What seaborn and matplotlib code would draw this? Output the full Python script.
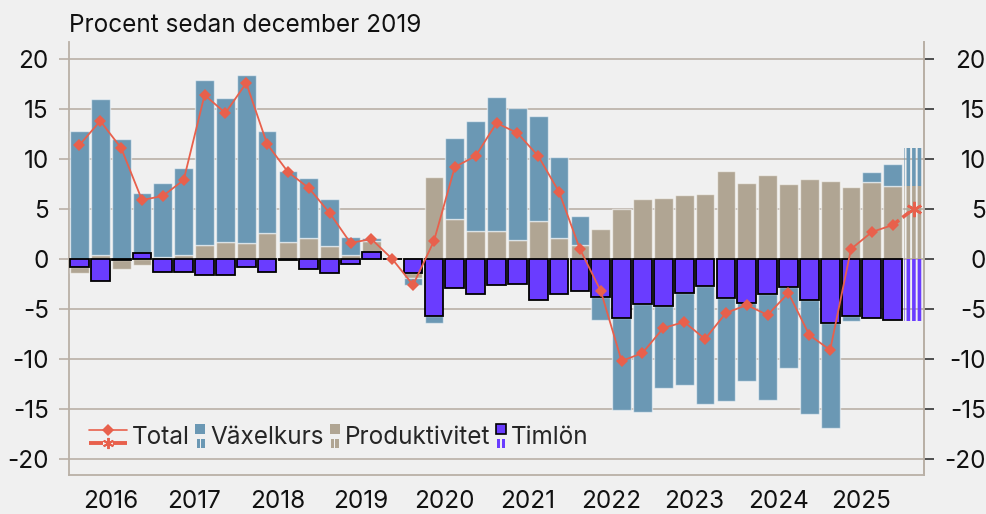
import numpy as np
import pandas as pd
import matplotlib
matplotlib.use("Agg")
import matplotlib.pyplot as plt
import seaborn as sns
from matplotlib.legend_handler import HandlerBase
from matplotlib.patches import Rectangle
from matplotlib.lines import Line2D

# ---------------- data (quarterly, 2016Q1 .. 2026Q1) ----------------
years = [2016, 2017, 2018, 2019, 2020, 2021, 2022, 2023, 2024, 2025]
quarters = [f"{y}K{q}" for y in range(2016, 2027) for q in (1, 2, 3, 4)][:41]

timlon = [-0.8, -2.2, -0.05, 0.6, -1.3, -1.3, -1.6, -1.6, -0.8, -1.3,
          -0.05, -1.0, -1.4, -0.5, 0.7, 0.0, -1.4, -5.7, -2.9, -3.5,
          -2.6, -2.5, -4.1, -3.5, -3.2, -3.8, -5.9, -4.5, -4.7, -3.4,
          -2.7, -3.9, -4.4, -3.5, -2.8, -4.1, -6.4, -5.7, -5.9, -6.1,
          -6.2]
produktivitet = [-0.6, 0.4, -0.9, -0.6, 0.2, 0.4, 1.4, 1.7, 1.6, 2.6,
                 1.7, 2.1, 1.3, 0.4, 1.1, 0.0, -0.5, 8.2, 4.0, 2.8,
                 2.8, 1.9, 3.8, 2.1, 1.4, 3.0, 5.0, 6.0, 6.1, 6.4,
                 6.5, 8.8, 7.6, 8.4, 7.5, 8.0, 7.8, 7.2, 7.7, 7.3,
                 7.3]
vaxelkurs = [12.8, 15.6, 12.0, 6.0, 7.4, 8.7, 16.5, 14.4, 16.8, 10.2,
             7.1, 6.0, 4.7, 1.8, 0.3, 0.0, -0.7, -0.7, 8.1, 11.0,
             13.4, 13.2, 10.5, 8.1, 2.9, -2.3, -9.2, -10.8, -8.2, -9.2,
             -11.8, -10.3, -7.8, -10.6, -8.1, -11.4, -10.5, -0.5, 1.0, 2.2,
             3.8]
total = [11.4, 13.8, 11.1, 5.9, 6.3, 7.9, 16.4, 14.6, 17.6, 11.5,
         8.7, 7.1, 4.6, 1.6, 2.0, 0.0, -2.6, 1.8, 9.2, 10.3,
         13.6, 12.6, 10.3, 6.7, 1.0, -3.2, -10.2, -9.4, -6.9, -6.3,
         -8.0, -5.4, -4.6, -5.6, -3.4, -7.6, -9.1, 1.0, 2.7, 3.4,
         5.0]
forecast_start = 40  # first forecast quarter (2026Q1)

yticks = [-20, -15, -10, -5, 0, 5, 10, 15, 20]
title = "Procent sedan december 2019"

# ---------------- style ----------------
BG = "#f0f0f0"
GRID = "#b9b0a6"
BLUE = "#6b98b4"
BEIGE = "#b0a593"
PURPLE = "#6a3cff"
RED = "#e8604c"

sns.set_theme(style="white", rc={"axes.facecolor": BG, "figure.facecolor": BG})
plt.rcParams["font.family"] = ["Inter", "DejaVu Sans"]
plt.rcParams["axes.unicode_minus"] = False
plt.rcParams["hatch.linewidth"] = 2.6
FS = 17.5

df = pd.DataFrame({"kvartal": quarters, "Timlön": timlon,
                   "Produktivitet": produktivitet, "Växelkurs": vaxelkurs,
                   "Total": total})
x = np.arange(len(df))

fig = plt.figure(figsize=(9.86, 5.14), dpi=100)
ax = fig.add_axes([69 / 986, 39 / 514, (924 - 69) / 986, (475 - 42) / 514])
ax.set_facecolor(BG)

# stacked bars: Timlön closest to zero, then Produktivitet, then Växelkurs
order = [("Timlön", PURPLE), ("Produktivitet", BEIGE), ("Växelkurs", BLUE)]
pos_b = np.zeros(len(df))
neg_b = np.zeros(len(df))
obs = x < forecast_start
for name, color in order:
    v = df[name].to_numpy(dtype=float)
    bottom = np.where(v >= 0, pos_b, neg_b)
    if name == "Timlön":
        kw = dict(edgecolor="black", linewidth=1.3, zorder=4)
    else:
        kw = dict(edgecolor=(1, 1, 1, 0.55), linewidth=1.0, zorder=3)
    ax.bar(x[obs], v[obs], bottom=bottom[obs], width=0.9, color=color, **kw)
    ax.bar(x[~obs], v[~obs], bottom=bottom[~obs], width=0.9,
           facecolor="none", edgecolor=color, linewidth=0, hatch="|||", zorder=3)
    pos_b += np.where(v >= 0, v, 0)
    neg_b += np.where(v < 0, v, 0)

# total line
sns.lineplot(x=x[:forecast_start], y=df["Total"].to_numpy()[:forecast_start], ax=ax,
             color=RED, linewidth=1.3, marker="D", markersize=6.5,
             markeredgewidth=0, zorder=6)
sns.lineplot(x=x[forecast_start - 1:], y=df["Total"].to_numpy()[forecast_start - 1:], ax=ax,
             color=RED, linewidth=2.6, linestyle=(0, (2.2, 1.2)), zorder=6)
ax.plot(x[forecast_start:], df["Total"].to_numpy()[forecast_start:], linestyle="none",
        marker=(6, 2, 0), markersize=11, markeredgewidth=1.8, color=RED, zorder=7)

# axes
ax.set_xlim(-0.5, len(df) - 0.5)
ax.set_ylim(-21.6, 21.7)
ax.set_yticks(yticks)
ax.set_yticklabels([str(t) for t in yticks], fontsize=FS)
ax.grid(axis="y", color=GRID, linewidth=1.2, zorder=0)
ax.set_axisbelow(True)
ax.tick_params(axis="y", which="major", length=7, width=1.2, color=GRID, pad=7.5,
               labelcolor="#111111")
ax.set_xticks([4 * i + 1.5 for i in range(len(years))])
ax.set_xticklabels([str(y) for y in years], fontsize=FS)
ax.set_xticks([4 * i - 0.5 for i in range(len(years) + 1)], minor=True)
ax.tick_params(axis="x", which="major", length=0, pad=11, labelcolor="#111111")
ax.tick_params(axis="x", which="minor", length=6, width=1.2, color=GRID)
ax.set_xlabel("")
ax.set_ylabel("")
for s in ["top"]:
    ax.spines[s].set_visible(False)
for s in ["left", "bottom", "right"]:
    ax.spines[s].set_color(GRID)
    ax.spines[s].set_linewidth(1.3)

ax2 = ax.twinx()
ax2.set_ylim(ax.get_ylim())
ax2.set_yticks(yticks)
ax2.set_yticklabels([str(t) for t in yticks], fontsize=FS, ha="right")
ax2.tick_params(axis="y", length=7, width=1.2, color="#333333", pad=37.5,
                labelcolor="#111111")
ax2.spines["top"].set_visible(False)
ax2.spines["left"].set_visible(False)
ax2.spines["bottom"].set_visible(False)
ax2.spines["right"].set_color(GRID)
ax2.spines["right"].set_linewidth(1.3)
ax2.grid(False)

fig.text(69 / 986, (514 - 32) / 514, title, fontsize=FS, va="baseline",
         ha="left", color="#111111")


# ---------------- legend with actual + forecast handles ----------------
class DualHandler(HandlerBase):
    def __init__(self, kind, color, box_w=None):
        super().__init__()
        self.kind = kind
        self.color = color
        self.box_w = box_w

    def legend_artist(self, legend, orig_handle, fontsize, handlebox):
        if self.box_w is not None:
            handlebox.width = self.box_w * fontsize
        return super().legend_artist(legend, orig_handle, fontsize, handlebox)

    def create_artists(self, legend, orig_handle, xdescent, ydescent, width,
                       height, fontsize, trans):
        yc = height / 2 - ydescent
        x0 = -xdescent
        arts = []
        if self.kind == "line":
            yt, yb = yc + 4.6, yc - 4.8
            arts.append(Line2D([x0, x0 + width], [yt, yt], color=self.color,
                               linewidth=1.2, transform=trans))
            arts.append(Line2D([x0 + width / 2], [yt], color=self.color,
                               marker="D", markersize=6, markeredgewidth=0,
                               transform=trans))
            arts.append(Line2D([x0, x0 + 0.36 * width], [yb, yb], color=self.color,
                               linewidth=2.8, solid_capstyle="butt", transform=trans))
            arts.append(Line2D([x0 + 0.64 * width, x0 + width], [yb, yb],
                               color=self.color, linewidth=2.8,
                               solid_capstyle="butt", transform=trans))
            arts.append(Line2D([x0 + width / 2], [yb], color=self.color,
                               marker=(6, 2, 0), markersize=8, markeredgewidth=1.4,
                               transform=trans))
        else:
            edge = "black" if self.kind == "box_edge" else "none"
            lw = 1.2 if self.kind == "box_edge" else 0
            arts.append(Rectangle((x0, yc + 1.3), width, 7.6, facecolor=self.color,
                                  edgecolor=edge, linewidth=lw, transform=trans))
            sw = width * 0.33
            arts.append(Rectangle((x0 + 0.12 * width, yc - 8.6), sw, 6.6,
                                  facecolor=self.color, edgecolor="none",
                                  transform=trans))
            arts.append(Rectangle((x0 + 0.58 * width, yc - 8.6), sw, 6.6,
                                  facecolor=self.color, edgecolor="none",
                                  transform=trans))
        return arts


h_tot = Line2D([], [])
h_vax = Rectangle((0, 0), 1, 1)
h_pro = Rectangle((0, 0), 1, 1)
h_tim = Rectangle((0, 0), 1, 1)
hmap = {h_tot: DualHandler("line", RED),
        h_vax: DualHandler("box", BLUE, box_w=0.41),
        h_pro: DualHandler("box", BEIGE, box_w=0.41),
        h_tim: DualHandler("box_edge", PURPLE, box_w=0.41)}
ax.legend([h_tot, h_vax, h_pro, h_tim], ["Total", "Växelkurs", "Produktivitet", "Timlön"],
          handler_map=hmap, ncol=4, loc="center left",
          bbox_to_anchor=((89 - 69) / 855, (475 - 438) / 433),
          frameon=False, fontsize=FS, handlelength=1.56, handletextpad=0.22,
          columnspacing=0.22, borderpad=0, borderaxespad=0)

fig.savefig("out.png", dpi=100, facecolor=BG)
